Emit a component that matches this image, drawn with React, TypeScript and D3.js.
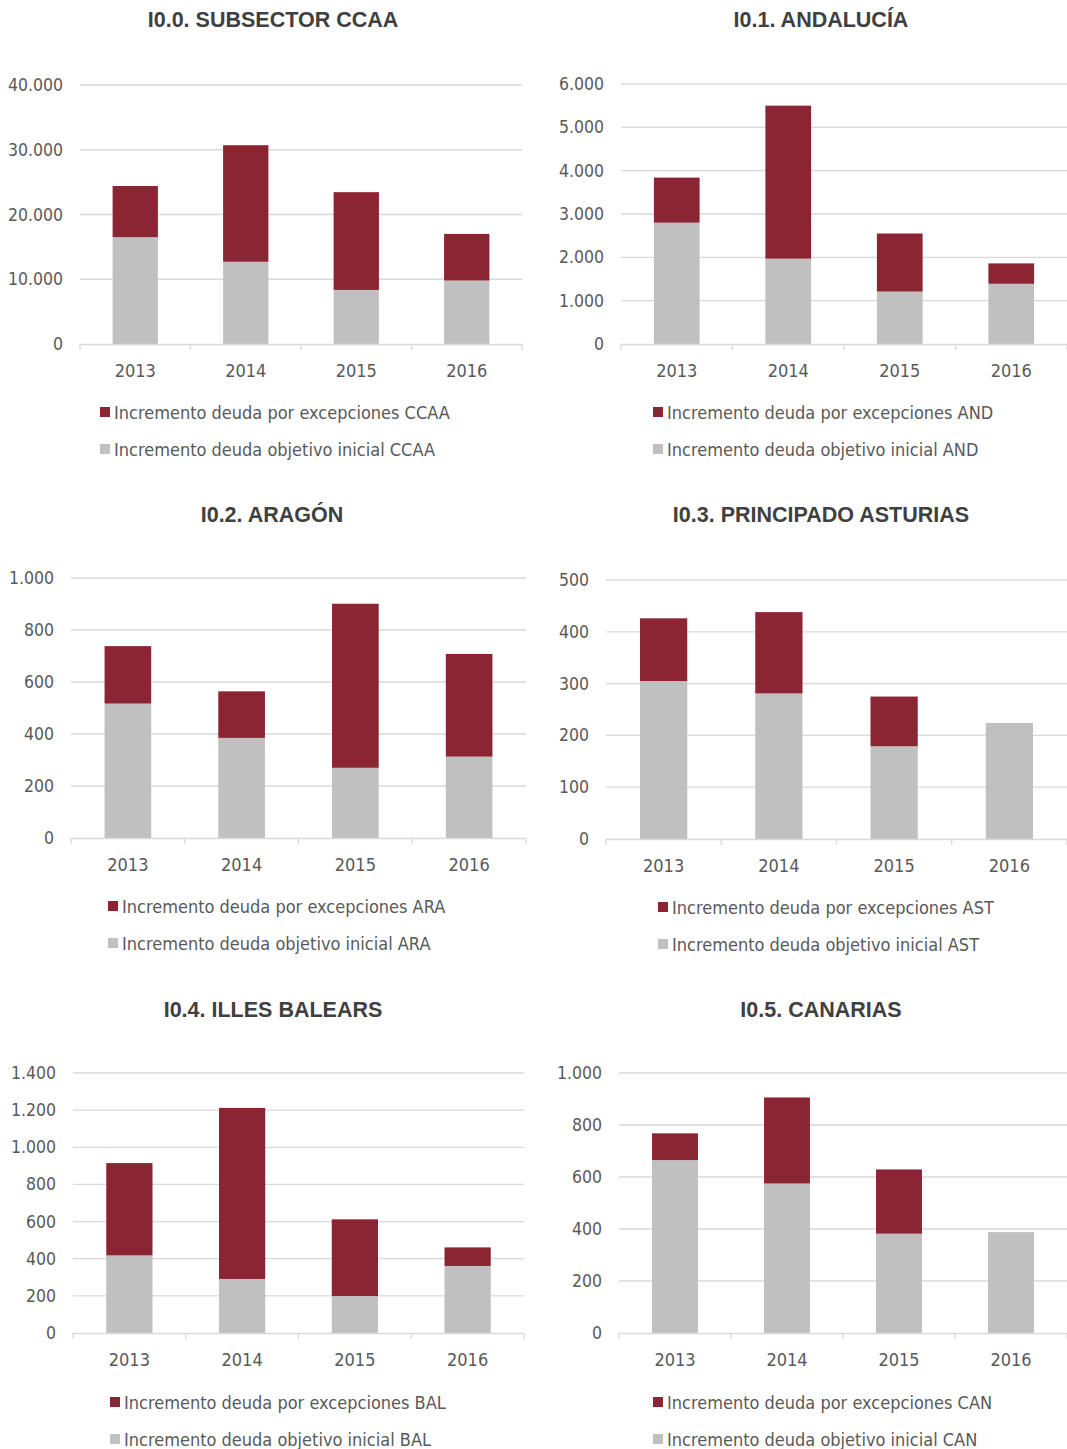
// @ts-nocheck
import { scaleBand, scaleLinear, range, formatLocale } from "d3";
import React from "react";

const years = ["2013", "2014", "2015", "2016"];

const ccaaInicial = [16500, 12700, 8350, 9800];
const ccaaExcep = [7900, 18000, 15100, 7200];
const andInicial = [2800, 1970, 1210, 1390];
const andExcep = [1040, 3530, 1340, 470];
const araInicial = [517, 385, 270, 313];
const araExcep = [221, 179, 631, 395];
const astInicial = [305, 281, 179, 224];
const astExcep = [121, 157, 96, 0];
const balInicial = [418, 291, 199, 361];
const balExcep = [497, 921, 413, 100];
const canInicial = [665, 575, 382, 388];
const canExcep = [103, 331, 247, 0];

const titles = [
  "I0.0. SUBSECTOR CCAA",
  "I0.1. ANDALUCÍA",
  "I0.2. ARAGÓN",
  "I0.3. PRINCIPADO ASTURIAS",
  "I0.4. ILLES BALEARS",
  "I0.5. CANARIAS",
];
const codes = ["CCAA", "AND", "ARA", "AST", "BAL", "CAN"];
const yMax = [40000, 6000, 1000, 500, 1400, 1000];
const yStep = [10000, 1000, 200, 100, 200, 200];

const RED = "#8B2533";
const GRAY = "#C0C0C0";
const TXT = "#595959";
const GRID = "#D9D9D9";
const FONT = "'Liberation Sans Narrow', 'DejaVu Sans Condensed', sans-serif";

const fmt = formatLocale({ decimal: ",", thousands: ".", grouping: [3], currency: ["", "€"] }).format(",d");

// layout of each panel (plot box, title and legend anchors)
const panels = [
  { inicial: ccaaInicial, excep: ccaaExcep, x0: 80, x1: 522, top: 85, bottom: 344, tx: 273, ty: 20, lx: 100, ly: 412 },
  { inicial: andInicial, excep: andExcep, x0: 621, x1: 1067, top: 84, bottom: 344, tx: 821, ty: 20, lx: 653, ly: 412 },
  { inicial: araInicial, excep: araExcep, x0: 71, x1: 526, top: 578, bottom: 838, tx: 272, ty: 515, lx: 108, ly: 906 },
  { inicial: astInicial, excep: astExcep, x0: 606, x1: 1067, top: 580, bottom: 839, tx: 821, ty: 515, lx: 658, ly: 907 },
  { inicial: balInicial, excep: balExcep, x0: 73, x1: 524, top: 1073, bottom: 1333, tx: 273, ty: 1010, lx: 110, ly: 1402 },
  { inicial: canInicial, excep: canExcep, x0: 619, x1: 1067, top: 1073, bottom: 1333, tx: 821, ty: 1010, lx: 653, ly: 1402 },
];

const Panel = ({ p, i }) => {
  const x = scaleBand().domain(years).range([p.x0, p.x1]).paddingInner(0.59).paddingOuter(0.295);
  const y = scaleLinear().domain([0, yMax[i]]).range([p.bottom, p.top]);
  const ticks = range(0, yMax[i] + 1, yStep[i]);
  const step = (p.x1 - p.x0) / years.length;
  return (
    <g>
      <text x={p.tx} y={p.ty} textAnchor="middle" dominantBaseline="central" fontFamily="'Liberation Sans', Arial, sans-serif" fontWeight="bold" fontSize={21.5} fill="#404040">
        {titles[i]}
      </text>
      {ticks.map((t) => (
        <g key={t}>
          {t > 0 && <line x1={p.x0} x2={p.x1} y1={y(t)} y2={y(t)} stroke={GRID} strokeWidth={1.3} />}
          <text x={p.x0 - 17} y={y(t)} textAnchor="end" dominantBaseline="central" fontFamily={FONT} fontSize={17.5} fill={TXT}>
            {fmt(t)}
          </text>
        </g>
      ))}
      {years.map((yr, j) => (
        <g key={yr}>
          <rect x={x(yr)} width={x.bandwidth()} y={y(p.inicial[j])} height={p.bottom - y(p.inicial[j])} fill={GRAY} />
          {p.excep[j] > 0 && (
            <rect
              x={x(yr)}
              width={x.bandwidth()}
              y={y(p.inicial[j] + p.excep[j])}
              height={y(p.inicial[j]) - y(p.inicial[j] + p.excep[j])}
              fill={RED}
            />
          )}
          <text x={x(yr) + x.bandwidth() / 2} y={p.bottom + 26} textAnchor="middle" dominantBaseline="central" fontFamily={FONT} fontSize={18} fill={TXT}>
            {yr}
          </text>
        </g>
      ))}
      <line x1={p.x0} x2={p.x1} y1={p.bottom + 0.5} y2={p.bottom + 0.5} stroke={GRID} strokeWidth={1.5} />
      {range(0, years.length + 1).map((k) => (
        <line key={k} x1={p.x0 + k * step} x2={p.x0 + k * step} y1={p.bottom} y2={p.bottom + 6} stroke={GRID} strokeWidth={1.3} />
      ))}
      {[
        { c: RED, label: "Incremento deuda por excepciones " + codes[i] },
        { c: GRAY, label: "Incremento deuda objetivo inicial " + codes[i] },
      ].map((l, k) => (
        <g key={k} transform={`translate(${p.lx},${p.ly + k * 37})`}>
          <rect x={0} y={-5} width={10} height={10} fill={l.c} />
          <text x={14} y={0} dominantBaseline="central" fontFamily={FONT} fontSize={18} fill={TXT}>
            {l.label}
          </text>
        </g>
      ))}
    </g>
  );
};

export default function App() {
  return (
    <svg width={1067} height={1449} style={{ position: "absolute", left: 0, top: 0, background: "#fff" }}>
      <rect width={1067} height={1449} fill="#fff" />
      {panels.map((p, i) => (
        <Panel key={i} p={p} i={i} />
      ))}
    </svg>
  );
}
